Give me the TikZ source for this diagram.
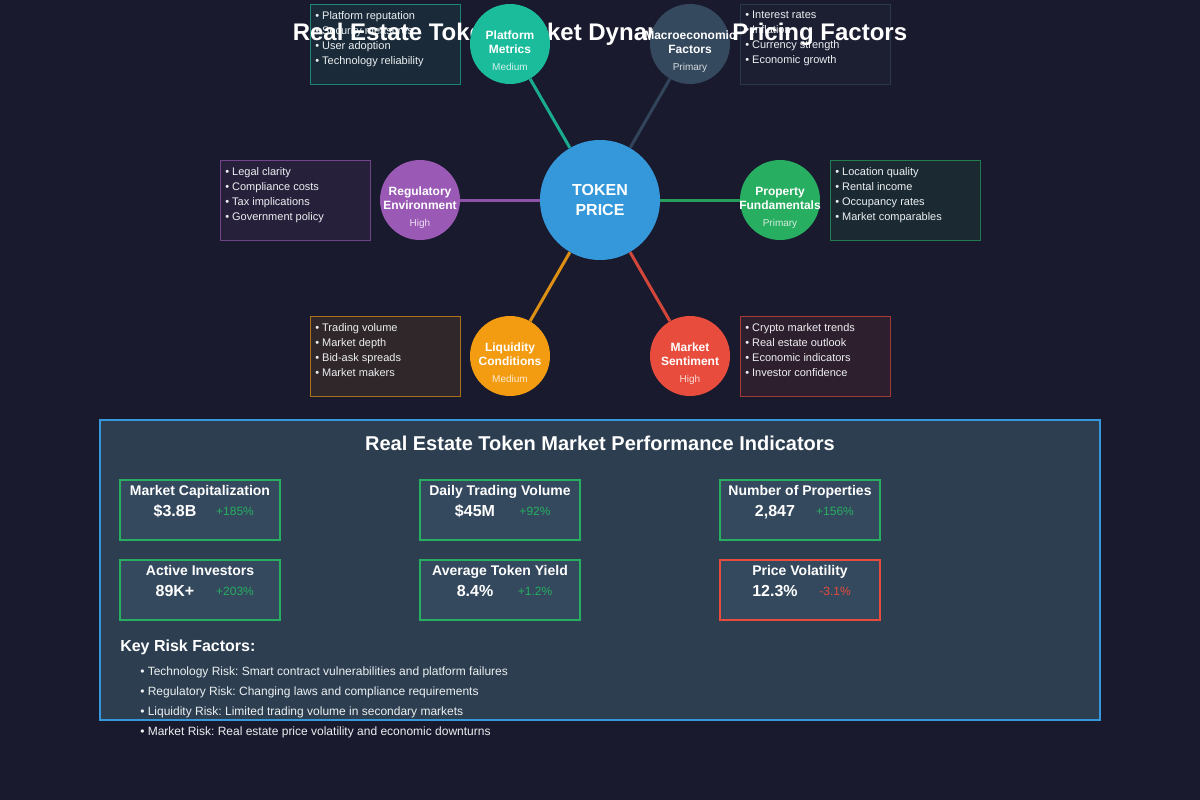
\documentclass[tikz,border=0pt]{standalone}
\usepackage{fontspec}
\setmainfont{Liberation Sans}
\frenchspacing
\definecolor{bgdark}{HTML}{1A1A2E}
\definecolor{tokblue}{HTML}{3498DB}
\definecolor{tealc}{HTML}{1ABC9C}
\definecolor{slatec}{HTML}{34495E}
\definecolor{purplec}{HTML}{9B59B6}
\definecolor{greenc}{HTML}{27AE60}
\definecolor{orangec}{HTML}{F39C12}
\definecolor{redc}{HTML}{E74C3C}
\definecolor{panelc}{HTML}{2C3E50}
\definecolor{lighttext}{HTML}{ECF0F1}
\begin{document}
\begin{tikzpicture}[x=0.75pt, y=-0.75pt,
    fac/.style={shape=circle, minimum size=60pt, inner sep=0pt},
    facname/.style={text=white, font=\bfseries\fontsize{9}{10.5}\selectfont, align=center, inner sep=0pt},
    faclvl/.style={anchor=base, text=white, text opacity=0.8, font=\fontsize{7.5}{9}\selectfont, inner sep=0pt},
    infobox/.style={shape=rectangle, minimum width=112.5pt, minimum height=60pt, line width=0.75pt, fill opacity=0.1, draw opacity=0.65},
    infotext/.style={anchor=north west, align=left, text=lighttext, font=\fontsize{8.25}{11.25}\selectfont, inner sep=0pt},
    link/.style={line width=2.25pt, draw opacity=0.9},
    metric/.style={shape=rectangle, draw=greenc, fill=slatec, line width=1.5pt, minimum width=120pt, minimum height=45pt},
    mtitle/.style={anchor=base, text=white, font=\bfseries\fontsize{10.5}{12}\selectfont, inner sep=0pt},
    mval/.style={anchor=base, text=white, font=\bfseries\fontsize{12}{14}\selectfont, inner sep=0pt},
    mchg/.style={anchor=base, text=greenc, font=\fontsize{9}{11}\selectfont, inner sep=0pt},
    risk/.style={anchor=base west, text=lighttext, font=\fontsize{9}{11}\selectfont, inner sep=0pt}]

      \fill[bgdark] (0,0) rectangle (1200,800);

      % factor detail boxes
      \node[infobox, draw=tealc, fill=tealc] (platbox) at (385,44) {};
      \node[infobox, draw=slatec, fill=slatec] (macrobox) at (815,44) {};
      \node[infobox, draw=purplec, fill=purplec] (regbox) at (295,200) {};
      \node[infobox, draw=greenc, fill=greenc] (propbox) at (905,200) {};
      \node[infobox, draw=orangec, fill=orangec] (liqbox) at (385,356) {};
      \node[infobox, draw=redc, fill=redc] (sentbox) at (815,356) {};

      \node[infotext] (plattxt) at (315,11) {• Platform reputation\\• Security measures\\• User adoption\\• Technology reliability};
      \node[infotext] (macrotxt) at (745,11) {• Interest rates\\• Inflation\\• Currency strength\\• Economic growth};
      \node[infotext] (regtxt) at (225,167) {• Legal clarity\\• Compliance costs\\• Tax implications\\• Government policy};
      \node[infotext] (proptxt) at (835,167) {• Location quality\\• Rental income\\• Occupancy rates\\• Market comparables};
      \node[infotext] (liqtxt) at (315,323) {• Trading volume\\• Market depth\\• Bid-ask spreads\\• Market makers};
      \node[infotext] (senttxt) at (745,323) {• Crypto market trends\\• Real estate outlook\\• Economic indicators\\• Investor confidence};

      \node[anchor=base, text=white, font=\bfseries\fontsize{18}{22}\selectfont, inner sep=0pt] (title) at (600,40) {Real Estate Token Market Dynamics \& Pricing Factors};

      % token price and its factors
      \node[shape=circle, fill=tokblue, minimum size=90pt, inner sep=0pt, text=white, align=center,
            font=\bfseries\fontsize{12}{15}\selectfont] (tok) at (600,200) {TOKEN\\PRICE};
      \node[fac, fill=tealc] (plat) at (510,44) {};
      \node[fac, fill=slatec] (macro) at (690,44) {};
      \node[fac, fill=purplec] (reg) at (420,200) {};
      \node[fac, fill=greenc] (prop) at (780,200) {};
      \node[fac, fill=orangec] (liq) at (510,356) {};
      \node[fac, fill=redc] (sent) at (690,356) {};

      \node[facname] (platname) at (510,42) {Platform\\Metrics};
      \node[facname] (macroname) at (690,42) {Macroeconomic\\Factors};
      \node[facname] (regname) at (420,198) {Regulatory\\Environment};
      \node[facname] (propname) at (780,198) {Property\\Fundamentals};
      \node[facname] (liqname) at (510,354) {Liquidity\\Conditions};
      \node[facname] (sentname) at (690,354) {Market\\Sentiment};

      \node[faclvl] (platlvl) at (510,70) {Medium};
      \node[faclvl] (macrolvl) at (690,70) {Primary};
      \node[faclvl] (reglvl) at (420,226) {High};
      \node[faclvl] (proplvl) at (780,226) {Primary};
      \node[faclvl] (liqlvl) at (510,382) {Medium};
      \node[faclvl] (sentlvl) at (690,382) {High};

      \path (tok) edge[link, draw=tealc] (plat);
      \path (tok) edge[link, draw=slatec] (macro);
      \path (tok) edge[link, draw=purplec] (reg);
      \path (tok) edge[link, draw=greenc] (prop);
      \path (tok) edge[link, draw=orangec] (liq);
      \path (tok) edge[link, draw=redc] (sent);

      % performance panel
      \node[shape=rectangle, draw=tokblue, fill=panelc, line width=1.5pt, minimum width=750pt, minimum height=225pt] (panel) at (600,570) {};
      \node[anchor=base, text=white, font=\bfseries\fontsize{15}{18}\selectfont, inner sep=0pt] (paneltitle) at (600,450) {Real Estate Token Market Performance Indicators};

      \node[metric] (mcap) at (200,510) {};
      \node[mtitle] (mcapt) at (200,495) {Market Capitalization};
      \node[mval] (mcapv) at (175,516) {\$3.8B};
      \node[mchg] (mcapc) at (235,515) {+185\%};

      \node[metric] (mvol) at (500,510) {};
      \node[mtitle] (mvolt) at (500,495) {Daily Trading Volume};
      \node[mval] (mvolv) at (475,516) {\$45M};
      \node[mchg] (mvolc) at (535,515) {+92\%};

      \node[metric] (mprop) at (800,510) {};
      \node[mtitle] (mpropt) at (800,495) {Number of Properties};
      \node[mval] (mpropv) at (775,516) {2,847};
      \node[mchg] (mpropc) at (835,515) {+156\%};

      \node[metric] (minv) at (200,590) {};
      \node[mtitle] (minvt) at (200,575) {Active Investors};
      \node[mval] (minvv) at (175,596) {89K+};
      \node[mchg] (minvc) at (235,595) {+203\%};

      \node[metric] (myld) at (500,590) {};
      \node[mtitle] (myldt) at (500,575) {Average Token Yield};
      \node[mval] (myldv) at (475,596) {8.4\%};
      \node[mchg] (myldc) at (535,595) {+1.2\%};

      \node[metric, draw=redc] (mvlt) at (800,590) {};
      \node[mtitle] (mvltt) at (800,575) {Price Volatility};
      \node[mval] (mvltv) at (775,596) {12.3\%};
      \node[mchg, text=redc] (mvltc) at (835,595) {-3.1\%};

      \node[anchor=base west, text=white, font=\bfseries\fontsize{12}{14}\selectfont, inner sep=0pt] (risktitle) at (120,651) {Key Risk Factors:};
      \node[risk] (risk1) at (140,675) {• Technology Risk: Smart contract vulnerabilities and platform failures};
      \node[risk] (risk2) at (140,695) {• Regulatory Risk: Changing laws and compliance requirements};
      \node[risk] (risk3) at (140,715) {• Liquidity Risk: Limited trading volume in secondary markets};
      \node[risk] (risk4) at (140,735) {• Market Risk: Real estate price volatility and economic downturns};

\end{tikzpicture}
\end{document}
